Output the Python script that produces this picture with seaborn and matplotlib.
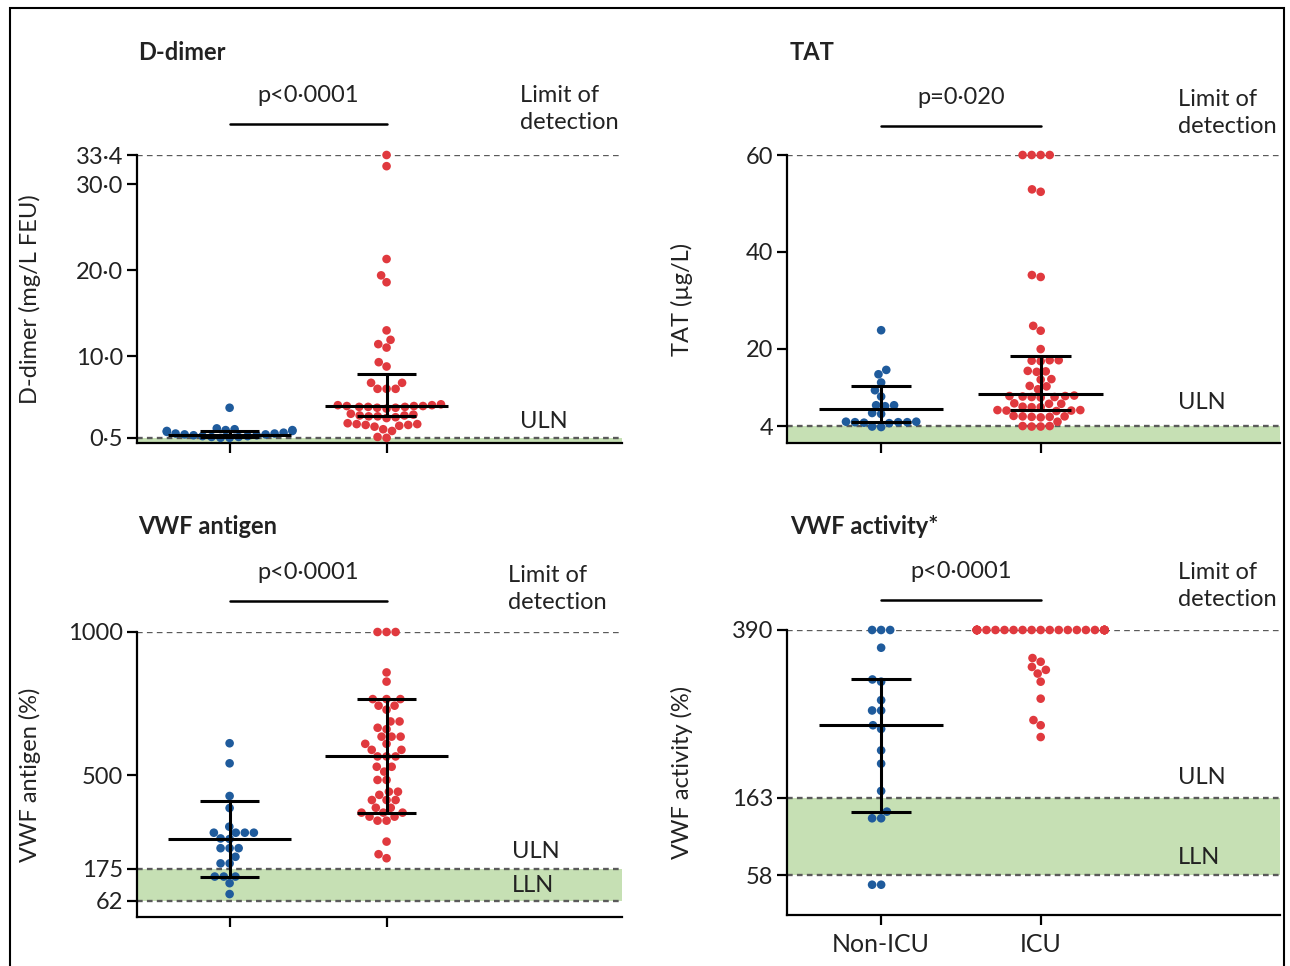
import numpy as np
import pandas as pd
import matplotlib
matplotlib.use('Agg')
import matplotlib.pyplot as plt
import seaborn as sns
from matplotlib.patches import Rectangle

sns.set_style('ticks')
plt.rcParams['font.family'] = ['Lato', 'DejaVu Sans']

groups = ['Non-ICU', 'ICU']
blue = '#1f5b9c'
red = '#e0393e'
green = '#c6e0b4'
dash_col = '#5a5a5a'

# --- D-dimer (mg/L FEU)
ddimer_non_icu = [4.0, 1.6, 1.5, 1.4, 1.4, 1.3, 1.3, 1.2, 1.1, 1.0, 1.0,
                  0.9, 0.9, 0.8, 0.8, 0.7, 0.7, 0.6, 0.6, 0.5, 0.5]
ddimer_icu = [33.4, 32.1, 21.3, 19.4, 18.6, 13.0, 11.9, 11.4, 11.0, 9.3, 8.8,
              6.9, 6.9, 6.2, 6.2, 6.2,
              4.4, 4.3, 4.3, 4.2, 4.2, 4.2, 4.1, 4.1, 4.1, 4.0, 4.0, 3.9,
              3.3, 3.2, 3.1, 3.1, 3.0, 3.0, 2.9, 2.8,
              2.2, 2.1, 2.1, 2.0, 2.0, 1.9, 1.8,
              1.5, 1.3, 0.6, 0.5]
ddimer_mid = [0.85, 4.2]
ddimer_lo = [0.6, 3.0]
ddimer_hi = [1.3, 7.9]
ddimer_ticks = [0.5, 10.0, 20.0, 30.0, 33.4]

# --- TAT (ug/L)
tat_non_icu = [23.8, 15.6, 14.7, 13.0, 11.4, 10.1, 8.3, 8.3, 8.1, 6.7, 6.5,
               4.9, 4.9, 4.8, 4.8, 4.8, 4.7, 4.6, 3.9, 3.8]
tat_icu = [60, 60, 60, 60, 52.9, 52.4, 35.2, 34.8, 24.7, 23.7, 19.9,
           17.6, 17.6, 17.5, 17.4, 15.4, 15.3, 15.2, 13.7, 13.6, 12.3, 12.2, 11.6,
           10.3, 10.2, 10.2, 10.1, 10.0, 10.0, 9.9,
           8.7, 8.6, 8.6, 8.0, 7.9, 7.9, 7.3, 7.3, 7.2, 7.2, 7.1,
           6.1, 6.0, 6.0, 5.9, 5.9, 5.8, 4.9, 4.0, 4.0, 3.9, 3.9]
tat_mid = [7.5, 10.6]
tat_lo = [4.9, 7.4]
tat_hi = [12.3, 18.5]
tat_ticks = [4, 20, 40, 60]

# --- VWF antigen (%)
vwfag_non_icu = [612, 542, 428, 386, 321, 300, 300, 300, 300, 280, 278,
                 246, 246, 246, 216, 193, 193, 147, 147, 147, 124, 86]
vwfag_icu = [1000, 1000, 1000, 859, 827, 766, 766, 766, 743, 743, 729,
             688, 688, 666, 661, 635, 635, 635, 610, 610, 589, 589,
             566, 566, 566, 530, 530, 513, 484, 484, 443, 443, 432,
             414, 414, 414, 387, 387, 370, 370, 370, 356, 356, 342, 342,
             269, 225, 211]
vwfag_mid = [278, 566]
vwfag_lo = [147, 368]
vwfag_hi = [411, 766]
vwfag_ticks = [62, 175, 500, 1000]

# --- VWF activity (%)
vwfact_non_icu = [390, 390, 390, 366, 323, 320, 295, 281, 281, 261, 256,
                  227, 209, 172, 144, 135, 135, 45, 45]
vwfact_icu = [390] * 30 + [352, 347, 340, 336, 331, 320, 297, 268, 261, 245]
vwfact_mid = [261, np.nan]
vwfact_lo = [144, np.nan]
vwfact_hi = [323, np.nan]
vwfact_ticks = [58, 163, 390]

W, H = 1290, 966
fig = plt.figure(figsize=(W / 100, H / 100), dpi=100)


def fx(px):
    return px / W


def fy(py):
    return 1 - py / H


def ax_at(left, top, right, bottom):
    return fig.add_axes([fx(left), fy(bottom), fx(right) - fx(left), fy(top) - fy(bottom)])


def panel(ax, non, icu, mid, lo, hi, ylim, ticks, ticklabels, lod, uln, lln=None):
    df = pd.DataFrame({'group': ['Non-ICU'] * len(non) + ['ICU'] * len(icu),
                       'value': list(non) + list(icu)})
    band_lo = ylim[0] if lln is None else lln
    ax.axhspan(band_lo, uln, color=green, lw=0, zorder=0)
    for y in [lod, uln, lln]:
        if y is not None:
            ax.axhline(y, ls=(0, (2.4, 1.8)), color=dash_col, lw=1.7, zorder=1)
    sns.swarmplot(data=df, x='group', y='value', hue='group', order=groups,
                  hue_order=groups, palette=[blue, red], size=6.2, linewidth=0,
                  legend=False, ax=ax, clip_on=False, zorder=3)
    for i in range(2):
        if np.isnan(mid[i]):
            continue
        ax.hlines(mid[i], i - 0.39, i + 0.39, color='black', lw=2.2, zorder=4)
        ax.hlines([lo[i], hi[i]], i - 0.19, i + 0.19, color='black', lw=2.2, zorder=4)
        ax.vlines(i, lo[i], hi[i], color='black', lw=2.2, zorder=4)
    ax.set_xlim(-0.59, 2.5)
    ax.set_ylim(ylim)
    ax.set_yticks(ticks)
    ax.set_yticklabels(ticklabels)
    ax.set_xticks([0, 1])
    ax.set_xticklabels(['', ''])
    ax.set_xlabel('')
    ax.set_ylabel('')
    sns.despine(ax=ax)
    ax.spines['left'].set_bounds(ylim[0], ticks[-1])
    for s in ['left', 'bottom']:
        ax.spines[s].set_linewidth(1.6)
        ax.spines[s].set_color('black')
    ax.tick_params(axis='both', length=7, width=1.6, labelsize=17, pad=3,
                   color='black', labelcolor='#222222')
    ax.patch.set_alpha(0)


def dot(v, fmt):
    return fmt.format(v).replace('.', '\u00b7')


ax1 = ax_at(137, 155, 622, 443)
panel(ax1, ddimer_non_icu, ddimer_icu, ddimer_mid, ddimer_lo, ddimer_hi,
      (-0.1, 33.4), ddimer_ticks, [dot(v, '{:.1f}') for v in ddimer_ticks],
      lod=33.4, uln=0.5)

ax2 = ax_at(787, 155, 1280, 443)
panel(ax2, tat_non_icu, tat_icu, tat_mid, tat_lo, tat_hi,
      (0.5, 60), tat_ticks, [str(v) for v in tat_ticks], lod=60, uln=4)

ax3 = ax_at(137, 632, 622, 917)
panel(ax3, vwfag_non_icu, vwfag_icu, vwfag_mid, vwfag_lo, vwfag_hi,
      (6, 1000), vwfag_ticks, [str(v) for v in vwfag_ticks], lod=1000, uln=175, lln=62)

ax4 = ax_at(787, 630, 1280, 915)
panel(ax4, vwfact_non_icu, vwfact_icu, vwfact_mid, vwfact_lo, vwfact_hi,
      (4, 390), vwfact_ticks, [str(v) for v in vwfact_ticks], lod=390, uln=163, lln=58)
ax4.set_xticklabels(groups)
ax4.tick_params(axis='x', pad=6, labelsize=18)

# y labels
for ax, label, xc in [(ax1, 'D-dimer (mg/L FEU)', -0.198), (ax2, 'TAT (\u00b5g/L)', -0.191),
                      (ax3, 'VWF antigen (%)', -0.198), (ax4, 'VWF activity (%)', -0.191)]:
    ax.set_ylabel(label, fontsize=17, color='#222222')
    ax.yaxis.set_label_coords(xc, 0.5)

# panel titles
for px, py, t in [(138, 52, 'D-dimer'), (790, 52, 'TAT'),
                  (138, 527, 'VWF antigen'), (790, 527, 'VWF activity*')]:
    fig.text(fx(px), fy(py), t, fontsize=17, fontweight='bold', va='center', ha='left',
             color='#222222')

# p values with bars between the groups
for ax, ptxt, frac in [(ax1, 'p<0\u00b70001', 1.108), (ax2, 'p=0\u00b7020', 1.10),
                       (ax3, 'p<0\u00b70001', 1.109), (ax4, 'p<0\u00b70001', 1.105)]:
    tr = ax.get_xaxis_transform()
    ax.plot([0, 1], [frac, frac], color='black', lw=1.8, transform=tr, clip_on=False)
    ax.text(0.5, frac + 0.1, ptxt, transform=tr, ha='center', va='center',
            fontsize=17, color='#222222')

# limit of detection labels
for px, py in [(520, 109), (1178, 113), (508, 589), (1178, 586)]:
    fig.text(fx(px), fy(py), 'Limit of\ndetection', fontsize=17, va='center', ha='left',
             linespacing=1.3, color='#222222')

# ULN / LLN labels
for px, py, t in [(520, 421, 'ULN'), (1178, 403, 'ULN'), (512, 851, 'ULN'), (512, 885, 'LLN'),
                  (1178, 778, 'ULN'), (1178, 858, 'LLN')]:
    fig.text(fx(px), fy(py), t, fontsize=17, va='center', ha='left', color='#222222')

# outer frame
fig.add_artist(Rectangle((fx(10), -0.01), fx(1284) - fx(10), fy(8) + 0.01,
                         transform=fig.transFigure, fill=False, lw=1.5, ec='black'))

fig.savefig('out.png', dpi=100)
